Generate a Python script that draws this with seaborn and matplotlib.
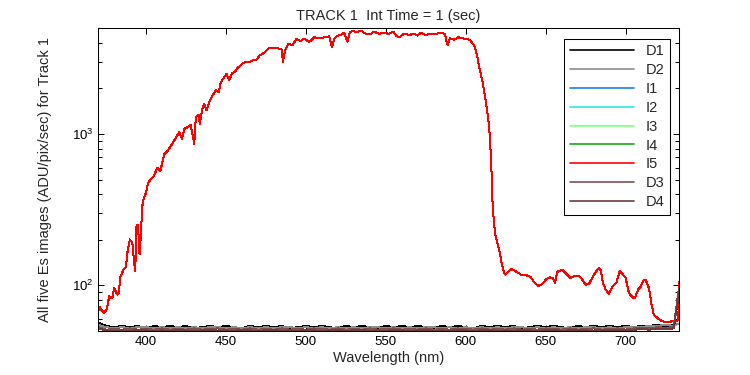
import matplotlib
matplotlib.use('Agg')
import numpy as np
import pandas as pd
import seaborn as sns
import matplotlib.pyplot as plt
from matplotlib.ticker import NullLocator, NullFormatter, FixedLocator

sns.set_style("ticks")
plt.rcParams['font.family'] = ['Liberation Sans', 'DejaVu Sans']
plt.rcParams['mathtext.default'] = 'regular'

# series names / colours (legend order = drawing order)
names = ['D1', 'D2', 'I1', 'I2', 'I3', 'I4', 'I5', 'D3', 'D4']
colours = ['#000000', '#8c8c8c', '#1a80e6', '#33e6e6', '#80ff80', '#1aa81a', '#ff0000', '#805050', '#6e3c3c']

# illuminated spectra (I1..I5 lie on top of each other)
wl_i = [370.0, 371.0, 372.5, 374.0, 375.6, 377.0, 379.0, 380.0, 381.0, 382.0,
        383.0, 384.0, 386.0, 387.5, 388.5, 390.0, 391.5, 392.7, 393.3, 394.0,
        395.0, 396.0, 397.0, 397.5, 398.5, 400.0, 401.4, 403.0, 405.0, 407.0,
        409.0, 411.4, 413.5, 415.6, 417.0, 418.8, 420.8, 422.5, 424.0, 426.0,
        428.0, 429.6, 430.2, 431.2, 432.9, 433.7, 435.0, 436.4, 437.9, 439.6,
        441.6, 443.8, 445.4, 446.9, 449.0, 450.4, 452.0, 453.7, 455.8, 457.3,
        460.4, 462.5, 464.6, 467.0, 469.2, 470.8, 474.0, 477.0, 480.2, 483.3,
        485.0, 485.6, 487.0, 489.0, 491.7, 494.0, 496.9, 498.3, 500.0, 502.0,
        505.2, 508.3, 511.4, 514.6, 516.3, 517.7, 519.8, 521.9, 524.0, 526.0,
        527.5, 529.0, 531.6, 534.4, 537.5, 540.6, 542.7, 545.8, 549.0, 552.0,
        554.6, 556.6, 558.3, 561.4, 564.6, 567.7, 569.8, 571.9, 575.0, 578.1,
        581.3, 584.4, 587.0, 587.9, 588.7, 590.0, 592.7, 595.4, 597.9, 601.0,
        603.0, 605.2, 606.3, 607.3, 608.7, 610.4, 612.0, 613.5, 614.6, 615.2,
        616.0, 616.6, 617.5, 618.3, 619.8, 621.3, 622.5, 624.0, 625.0, 627.0,
        628.6, 631.2, 634.4, 637.5, 640.6, 642.7, 645.6, 647.9, 650.0, 652.5,
        654.6, 655.8, 657.3, 660.4, 662.9, 665.6, 668.3, 670.8, 672.9, 675.0,
        677.0, 679.6, 681.3, 683.3, 684.4, 685.8, 687.5, 689.6, 691.7, 694.2,
        696.3, 698.0, 700.0, 702.1, 704.6, 705.8, 707.9, 709.4, 711.4, 712.5,
        714.6, 716.3, 717.7, 719.8, 722.9, 726.0, 729.1, 731.3, 733.0, 733.4]
i_vals = [66, 72, 68, 66, 70, 85, 82, 96, 92, 87,
          89, 114, 127, 133, 168, 201, 191, 138, 124, 245,
          252, 160, 228, 325, 370, 409, 476, 501, 527, 598,
          569, 734, 772, 833, 880, 945, 1026, 927, 1079, 1107,
          1147, 927, 858, 1290, 1336, 1165, 1427, 1580, 1427, 1621,
          1795, 1935, 1888, 2199, 2374, 2496, 2254, 2496, 2585, 2724,
          2907, 2986, 2986, 3061, 3091, 3270, 3433, 3695, 3710, 3655,
          3600, 2986, 3560, 3946, 3850, 4220, 4100, 4220, 4190, 4030,
          4340, 4270, 4340, 4400, 3725, 4230, 4450, 4500, 4650, 4060,
          4650, 4800, 4700, 4800, 4580, 4580, 4730, 4580, 4650, 4580,
          4730, 4450, 4340, 4580, 4500, 4580, 4450, 4650, 4500, 4580,
          4580, 4650, 4580, 4130, 3830, 4270, 4180, 4340, 4270, 4230,
          4130, 3830, 3550, 3200, 2680, 2245, 1785, 1385, 1130, 900,
          630, 378, 272, 222, 191, 164, 139, 121, 118, 124,
          128, 124, 118, 117, 114, 105, 99, 102, 109, 113,
          112, 104, 123, 127, 119, 112, 116, 116, 109, 101,
          102, 114, 123, 130, 126, 104, 94, 88, 98, 104,
          124, 119, 112, 89, 83, 83, 94, 98, 109, 109,
          96, 74, 64, 61, 58, 57, 58, 58, 59, 106]

# dark frames, every 5 nm from 370 to 730, plus the edge sample
wl_d = list(range(370, 731, 5)) + [733.4]
d1 = [57, 54, 53, 54, 53, 54, 52, 54, 53, 54,
      53, 54, 52, 53, 54, 53, 54, 53, 52, 54,
      53, 54, 53, 54, 52, 53, 54, 53, 54, 53,
      52, 54, 53, 54, 53, 52, 54, 53, 54, 53,
      54, 53, 52, 54, 53, 54, 53, 52, 54, 53,
      54, 53, 54, 52, 53, 54, 53, 54, 53, 52,
      54, 53, 54, 53, 54, 53, 54, 53, 54, 54,
      55, 54, 55, 56]
d2 = [55, 53, 52, 53, 52, 53, 53, 52, 53, 52,
      53, 52, 53, 52, 53, 53, 52, 53, 52, 53,
      52, 53, 52, 53, 53, 52, 53, 52, 53, 52,
      53, 52, 53, 52, 53, 53, 52, 53, 52, 53,
      52, 53, 53, 52, 53, 52, 53, 52, 53, 52,
      53, 52, 53, 53, 52, 53, 52, 53, 52, 53,
      52, 53, 53, 52, 53, 52, 53, 53, 53, 54,
      54, 55, 54, 56]
d3 = [53, 51, 51.5, 51, 52, 51, 51.5, 51, 52, 51,
      51.5, 51, 52, 51, 51.5, 52, 51, 51.5, 51, 52,
      51, 51.5, 51, 52, 51, 51.5, 51, 52, 51.5, 51,
      52, 51, 51.5, 51, 52, 51, 51.5, 52, 51, 51.5,
      51, 52, 51, 51.5, 51, 52, 51.5, 51, 52, 51,
      51.5, 51, 52, 51, 51.5, 51, 52, 51.5, 51, 52,
      51, 51.5, 52, 51, 51.5, 52, 51, 52, 52.5, 52,
      53, 52.5, 53, 96]
d4 = [52, 50.5, 50, 50.5, 50, 51, 50.5, 50, 50.5, 50,
      51, 50.5, 50, 50.5, 51, 50, 50.5, 50, 51, 50.5,
      50, 50.5, 51, 50, 50.5, 50, 51, 50.5, 50, 50.5,
      51, 50, 50.5, 51, 50, 50.5, 50, 51, 50.5, 50,
      50.5, 51, 50, 50.5, 50, 51, 50.5, 50, 50.5, 51,
      50, 50.5, 50, 51, 50.5, 50, 50.5, 51, 50, 50.5,
      51, 50.5, 50, 51, 50.5, 51, 50.5, 51, 51.5, 51,
      52, 51.5, 52, 90]

frames = []
for n in names:
    if n.startswith('I'):
        frames.append(pd.DataFrame({'wl': wl_i, 'val': i_vals, 'name': n}))
    else:
        v = {'D1': d1, 'D2': d2, 'D3': d3, 'D4': d4}[n]
        frames.append(pd.DataFrame({'wl': wl_d, 'val': v, 'name': n}))
df = pd.concat(frames, ignore_index=True)

fig = plt.figure(figsize=(7.5, 3.75), dpi=100)
ax = fig.add_axes([98 / 750, 1 - 331 / 375, (679 - 98) / 750, (331 - 28) / 375])

# aliased 1px lines like the original export
sns.lineplot(data=df, x='wl', y='val', hue='name', hue_order=names,
             palette=colours, estimator=None, linewidth=0.72,
             antialiased=False, ax=ax)

ax.set_yscale('log')
ax.set_xlim(370, 733.4)
ax.set_ylim(50, 5000)
ax.xaxis.set_major_locator(FixedLocator([400, 450, 500, 550, 600, 650, 700]))
ax.xaxis.set_minor_locator(NullLocator())
ax.yaxis.set_minor_formatter(NullFormatter())
ax.tick_params(which='both', direction='in', top=True, right=True,
               colors='black', labelsize=9.5, width=0.75)
ax.tick_params(which='major', length=4.5)
ax.tick_params(which='minor', length=3)
for s in ax.spines.values():
    s.set_color('black')
    s.set_linewidth(0.75)

ax.set_xlabel('Wavelength (nm)', fontsize=10.5, labelpad=2)
ax.set_ylabel('All five Es images (ADU/pix/sec) for Track 1', fontsize=10.5)
ax.yaxis.set_label_coords(-0.079, 0.5)
ax.set_title('TRACK 1  Int Time = 1 (sec)', fontsize=10.5, pad=6)

leg = ax.legend(loc='upper right', bbox_to_anchor=(0.985, 0.965), borderaxespad=0,
                frameon=True, fancybox=False, edgecolor='black', framealpha=1,
                handlelength=4.4, labelspacing=0.33, fontsize=10.5)
leg.get_frame().set_linewidth(0.75)
for line in leg.get_lines():
    line.set_linewidth(1.2)
    line.set_antialiased(True)

fig.savefig('out.png', dpi=100)
